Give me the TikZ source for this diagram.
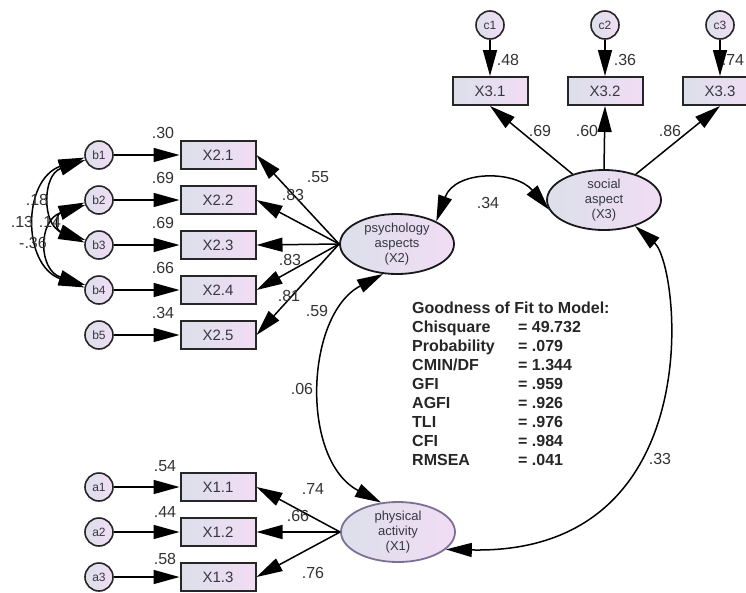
\documentclass[tikz,border=0pt]{standalone}
\usepackage{fontspec}
\setmainfont{Liberation Sans}
\usetikzlibrary{arrows.meta,shapes.geometric}

\definecolor{shadel}{RGB}{220,223,234}
\definecolor{shader}{RGB}{241,221,245}
\definecolor{txtgray}{RGB}{55,55,65}
\definecolor{physedge}{RGB}{125,112,150}

\tikzset{
  err/.style={circle, draw=black!85, line width=1.6pt, minimum size=28pt, inner sep=0pt,
    left color=shadel, right color=shader, text=txtgray, font=\fontsize{12}{12}\selectfont},
  obs/.style={rectangle, draw=black!85, line width=2pt, minimum width=75pt, minimum height=28pt,
    left color=shadel, right color=shader, text=txtgray, font=\fontsize{15}{15}\selectfont},
  lat/.style={ellipse, draw=black!90, line width=1.8pt, minimum width=114pt, minimum height=60pt,
    inner sep=0pt, left color=shadel, right color=shader, text=txtgray, align=center,
    font=\fontsize{13}{15}\selectfont},
  arr/.style={line width=1.5pt, -{Triangle[length=26pt,width=14pt]}},
  covar/.style={line width=1.5pt, {Triangle[length=26pt,width=14pt]}-{Triangle[length=26pt,width=14pt]}},
  lbl/.style={inner sep=0pt, text=black!80, font=\fontsize{16}{16}\selectfont}
}

\begin{document}
\begin{tikzpicture}[x=1pt,y=-1pt]
\useasboundingbox (0,0) rectangle (746,592);
\clip (0,0) rectangle (746,592);

\node[lat] (psy) at (397,244) {psychology\\aspects\\(X2)};
\node[lat] (soc) at (604,200) {social\\aspect\\(X3)};
\node[lat, draw=physedge] (phy) at (398,532) {physical\\activity\\(X1)};

\node[err] (b1) at (99,155) {b1};
\node[err] (b2) at (99,200) {b2};
\node[err] (b3) at (99,245) {b3};
\node[err] (b4) at (99,290) {b4};
\node[err] (b5) at (99,335) {b5};
\node[obs] (x21) at (218,155) {X2.1};
\node[obs] (x22) at (218,200) {X2.2};
\node[obs] (x23) at (218,245) {X2.3};
\node[obs] (x24) at (218,290) {X2.4};
\node[obs] (x25) at (218,335) {X2.5};

\node[err] (a1) at (99,487) {a1};
\node[err] (a2) at (99,532) {a2};
\node[err] (a3) at (99,577) {a3};
\node[obs] (x11) at (218,487) {X1.1};
\node[obs] (x12) at (218,532) {X1.2};
\node[obs] (x13) at (218,577) {X1.3};

\node[err] (c1) at (490,25) {c1};
\node[err] (c2) at (605,25) {c2};
\node[err] (c3) at (720,25) {c3};
\node[obs] (x31) at (490,91) {X3.1};
\node[obs] (x32) at (605,91) {X3.2};
\node[obs] (x33) at (720,91) {X3.3};

\draw[arr] (b1) -- (x21);
\draw[arr] (b2) -- (x22);
\draw[arr] (b3) -- (x23);
\draw[arr] (b4) -- (x24);
\draw[arr] (b5) -- (x25);
\draw[arr] (a1) -- (x11);
\draw[arr] (a2) -- (x12);
\draw[arr] (a3) -- (x13);
\draw[arr] (c1) -- (x31);
\draw[arr] (c2) -- (x32);
\draw[arr] (c3) -- (x33);

\draw[arr] (psy.west) -- (x21.east);
\draw[arr] (psy.west) -- (x22.east);
\draw[arr] (psy.west) -- (x23.east);
\draw[arr] (psy.west) -- (x24.east);
\draw[arr] (psy.west) -- (x25.east);
\draw[arr] (phy.west) -- (x11.east);
\draw[arr] (phy.west) -- (x12.east);
\draw[arr] (phy.west) -- (x13.east);
\draw[arr] (soc) -- (x31.south);
\draw[arr] (soc.north) -- (x32.south);
\draw[arr] (soc) -- (x33.south);

\draw[covar] (b1.190) .. controls (22,180) and (22,265) .. (b4.170);
\draw[covar] (b1.200) .. controls (42,175) and (42,225) .. (b3.160);
\draw[covar] (b2.200) .. controls (38,220) and (38,270) .. (b4.160);
\draw[covar] (b2.190) .. controls (55,215) and (55,230) .. (b3.170);

\draw[covar] (psy.30) .. controls (455,170) and (515,170) .. (soc.190);
\draw[covar] (psy.245) .. controls (305,315) and (300,460) .. (phy.120);
\draw[covar] (soc.-40) .. controls (680,265) and (712,555) .. (phy.-20);

\node[lbl] (e21) at (163,133) {.30};
\node[lbl] (e22) at (163,178) {.69};
\node[lbl] (e23) at (163,223) {.69};
\node[lbl] (e24) at (163,268) {.66};
\node[lbl] (e25) at (163,313) {.34};
\node[lbl] (e11) at (165,466) {.54};
\node[lbl] (e12) at (165,512) {.44};
\node[lbl] (e13) at (165,559) {.58};
\node[lbl] (e31) at (508,60) {.48};
\node[lbl] (e32) at (625,60) {.36};
\node[lbl] (e33) at (733,60) {.74};

\node[lbl] (l21) at (318,177) {.55};
\node[lbl] (l22) at (293,195) {.83};
\node[lbl] (l24) at (290,260) {.83};
\node[lbl] (l25) at (289,296) {.81};
\node[lbl] (l23) at (317,311) {.59};
\node[lbl] (l11) at (313,489) {.74};
\node[lbl] (l12) at (298,516) {.66};
\node[lbl] (l13) at (313,573) {.76};
\node[lbl] (l31) at (540,131) {.69};
\node[lbl] (l32) at (587,131) {.60};
\node[lbl] (l33) at (670,131) {.86};

\node[lbl] (r18) at (37,200) {.18};
\node[lbl] (r13) at (22,222) {.13};
\node[lbl] (r14) at (50,222) {.14};
\node[lbl] (r36) at (33,243) {-.36};
\node[lbl] (r34) at (488,203) {.34};
\node[lbl] (r06) at (302,389) {.06};
\node[lbl] (r33) at (660,459) {.33};

\node[anchor=north west, inner sep=0pt, text=black!85, font=\fontsize{16}{19}\selectfont\bfseries] (fit) at (412,300)
  {\begin{tabular}{@{}p{106pt}@{}l@{}}
   \multicolumn{2}{@{}l@{}}{Goodness of Fit to Model:}\\
   Chisquare   & = 49.732\\
   Probability & = .079\\
   CMIN/DF     & = 1.344\\
   GFI         & = .959\\
   AGFI        & = .926\\
   TLI         & = .976\\
   CFI         & = .984\\
   RMSEA       & = .041
  \end{tabular}};
\end{tikzpicture}
\end{document}
